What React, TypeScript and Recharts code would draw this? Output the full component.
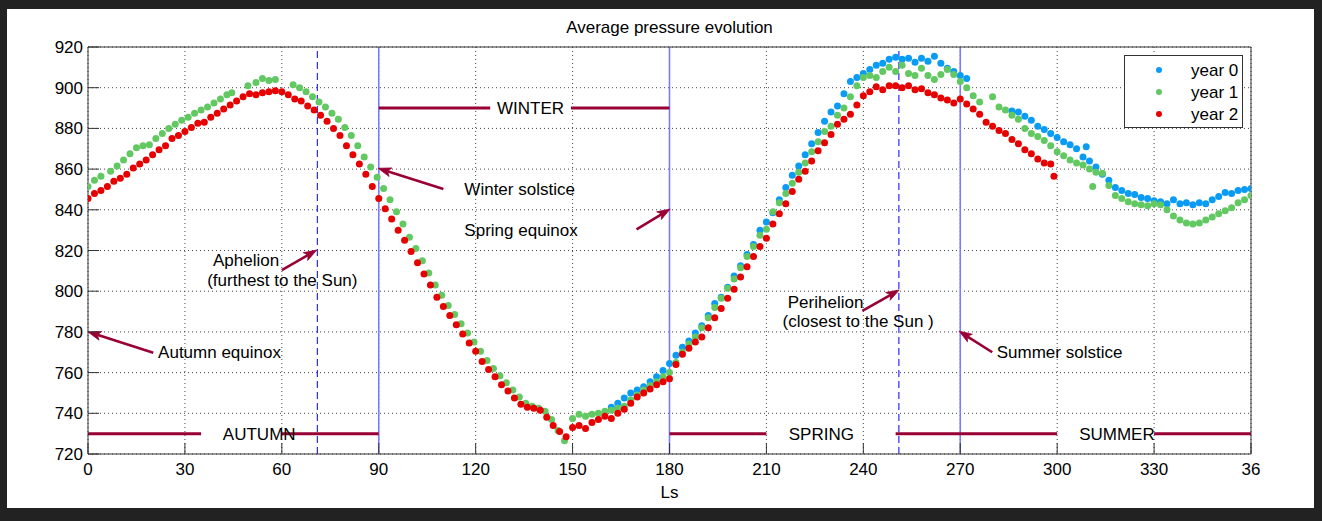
import React from "react";
import {
  ScatterChart,
  Scatter,
  XAxis,
  YAxis,
  CartesianGrid,
  ReferenceLine,
  ReferenceDot,
  Legend,
} from "recharts";

// axes
const xTicks = [0, 30, 60, 90, 120, 150, 180, 210, 240, 270, 300, 330, 360];
const xTickLabels = ["0", "30", "60", "90", "120", "150", "180", "210", "240", "270", "300", "330", "36"];
const yTicks = [720, 740, 760, 780, 800, 820, 840, 860, 880, 900, 920];

// [Ls, pressure]
const year0: [number, number][] = [
  [162, 743], [164, 745], [166, 747.5], [168, 750], [170, 751.5], [172, 753], [174, 755.5], [176, 758],
  [178, 761], [180, 764.5], [182, 768.5], [184, 772.5], [186, 775.5], [188, 779.5], [190, 783], [192, 788],
  [194, 794], [196, 797], [198, 802], [200, 807.5], [202, 812.5], [204, 818], [206, 823], [208, 830],
  [210, 834], [212, 838.5], [214, 845], [216, 851], [218, 857], [220, 861.5], [222, 867], [224, 872.5],
  [226, 878], [228, 883.5], [230, 888], [232, 891], [234, 897], [236, 903], [238, 905], [240, 907],
  [242, 909], [244, 911], [246, 912], [248, 914], [250, 915], [252, 914], [254, 914.5], [256, 912.5],
  [258, 914.5], [260, 913], [262, 915.5], [264, 912], [266, 909.5], [268, 908], [270, 906], [272, 904.5],
  [286, 888.5], [288, 888], [290, 886], [292, 884], [294, 881], [296, 879.5], [298, 877.5], [300, 875.5],
  [302, 873.5], [304, 872], [306, 870], [308, 866], [309, 871], [310, 864], [312, 861], [314, 857.5],
  [316, 854.5], [318, 851], [320, 849.5], [322, 848], [324, 847.5], [326, 846], [328, 845.5], [330, 844.5],
  [332, 844], [334, 843], [336, 845], [338, 843], [340, 843.5], [342, 842.5], [344, 843.5], [346, 843],
  [348, 845], [350, 846.5], [352, 848.5], [354, 848], [356, 849.5], [358, 850], [360, 850.5],
];

const year1: [number, number][] = [
  [0, 851.5], [2, 854.5], [4, 856.5], [7, 859], [9, 861.5], [11, 864.5], [13, 867.5], [15, 870.5],
  [17, 871.5], [19, 872], [21, 875], [23, 877.5], [25, 880], [27, 882], [29, 884], [31, 885.5],
  [33, 887.5], [35, 889], [37, 890.5], [39, 892.5], [41, 894.5], [43, 896.5], [44.5, 897.5], [49.5, 901],
  [52, 902.5], [54, 904.5], [56, 903.5], [58, 904], [63.5, 901.5], [65.5, 900], [67.5, 898], [69.5, 895.5],
  [71.5, 893], [73.5, 890.5], [75.5, 887.5], [77.5, 884.5], [79.5, 880.5], [81.5, 876.5], [83.5, 871.5], [85.5, 866],
  [87.5, 861], [89.5, 856], [91.5, 850.5], [93.5, 845], [95.5, 839], [97.5, 833], [99.5, 826.5], [101.5, 821],
  [103.5, 815], [105.5, 809], [107.5, 803], [109.5, 798], [111.5, 793], [113.5, 788.5], [115.5, 784], [117.5, 779.5],
  [119.5, 775], [121.5, 770.5], [123.5, 766], [125.5, 762], [127.5, 758.5], [129.5, 755], [131.5, 751.5], [133.5, 748],
  [135.5, 745], [137.5, 743.5], [139.5, 742.5], [141.5, 741], [143.5, 737], [145.5, 731.5], [147.5, 726.5], [150, 737.5],
  [152, 739.5], [154, 738.5], [156, 739.5], [158, 740], [160, 741], [162, 741.5], [164, 742.5], [166, 743.5],
  [168, 746.5], [170, 749], [172, 751.5], [174, 753.5], [176, 755.5], [178, 758], [180, 760], [182, 765],
  [184, 770], [186, 774], [188, 777.5], [190, 782], [192, 787], [194, 792], [196, 796.5], [198, 801.5],
  [200, 806], [202, 811.5], [204, 817], [206, 822], [208, 827.5], [210, 830.5], [212, 839], [214, 843.5],
  [216, 848], [218, 853], [220, 858.5], [222, 863], [224, 868.5], [226, 873.5], [228, 878.5], [230, 881],
  [232, 886.5], [234, 890], [236, 895.5], [238, 901], [240, 905], [242, 906], [244, 905], [246, 908],
  [248, 910], [250, 908], [252, 911], [254, 907], [256, 906], [258, 909.5], [260, 906], [262, 904],
  [264, 906.5], [266, 909], [268, 906.5], [270, 903], [272, 900], [274, 896], [276, 893], [280, 895.5],
  [282, 890.5], [284, 889], [286, 886.5], [288, 884.5], [290, 880], [292, 877.5], [294, 876], [296, 874],
  [298, 871.5], [300, 868.5], [302, 866.5], [304, 864.5], [306, 863], [308, 862], [310, 860], [311, 851.5],
  [312, 858.5], [314, 858], [316, 852], [318, 847], [320, 845.5], [322, 844], [324, 843], [326, 842.5],
  [328, 842], [330, 843], [332, 842.5], [334, 840], [336, 837], [338, 835], [340, 833.5], [342, 833],
  [344, 833.5], [346, 835], [348, 836.5], [350, 838], [352, 839.5], [354, 841], [356, 843.5], [358, 845],
  [360, 847],
];

const year2: [number, number][] = [
  [0, 845.5], [2, 848], [4, 849.5], [6, 851.5], [8, 854], [10, 855.5], [12, 857.5], [14, 860.5],
  [16, 862.5], [18, 864.5], [20, 867], [22, 869.5], [24, 871.5], [26, 875], [28, 876.5], [30, 878.5],
  [32, 880.5], [34, 882.5], [36, 883], [38, 885.5], [40, 887.5], [42, 889.5], [44, 891.5], [46, 893.5],
  [48, 895.5], [50, 897], [52, 896.5], [54, 897.5], [56, 898], [58, 898.5], [60, 898], [62, 896.5],
  [64, 894.5], [66, 893.5], [68, 891], [70, 889], [72, 886.5], [74, 883.5], [76, 880], [78, 876.5],
  [80, 871.5], [82, 867], [84, 862.5], [86, 857.5], [88, 851.5], [90, 845.5], [92, 840.5], [94, 835.5],
  [96, 830], [98, 825], [100, 819.5], [102, 814], [104, 808.5], [106, 803], [108, 797], [110, 792.5],
  [112, 788], [114, 783.5], [116, 779], [118, 774.5], [120, 770.5], [122, 765.5], [124, 761.5], [126, 758],
  [128, 754], [130, 751], [132, 747.5], [134, 744.5], [136, 743], [138, 742.5], [140, 741.5], [142, 738],
  [144, 734], [146, 731], [148, 728.5], [150, 733], [152, 734], [154, 732.5], [156, 735.5], [158, 737],
  [160, 738.5], [162, 737.5], [164, 740], [166, 742], [168, 745], [170, 748], [172, 750], [174, 752],
  [176, 754], [178, 755.5], [180, 757], [182, 764], [184, 769], [186, 772], [188, 775], [190, 777.5],
  [192, 782], [194, 787], [196, 791.5], [198, 796.5], [200, 801], [202, 807], [204, 812], [206, 817],
  [208, 822], [210, 826], [212, 833], [214, 838], [216, 843], [218, 849], [220, 855], [222, 859],
  [224, 864], [226, 869], [228, 873], [230, 877], [232, 882], [234, 884.5], [236, 887], [238, 891.5],
  [240, 896], [242, 898], [244, 900.5], [246, 899], [248, 901], [250, 901], [252, 900], [254, 901],
  [256, 899], [258, 899.5], [260, 897.5], [262, 896.5], [264, 895], [266, 894], [268, 892.5], [270, 894.5],
  [272, 892], [274, 889.5], [276, 887], [278, 883], [280, 881], [282, 879], [284, 877.5], [286, 874.5],
  [288, 872.5], [290, 869.5], [292, 867.5], [294, 865], [296, 863], [298, 862.5], [299, 856.5],
];

const seriesNames = ["year 0", "year 1", "year 2"];
const seriesData = [year0, year1, year2];
const seriesColors = ["#0a9cf5", "#62c962", "#e60000"];

// season bars: [from Ls, to Ls, pressure]
const seasonBars: [number, number, number][] = [
  [0, 35, 730], [60, 90, 730],
  [90, 124.5, 890], [149.5, 180, 890],
  [180, 210, 730], [250, 300, 730], [330, 360, 730],
];
const seasonLabels: [string, number, number][] = [
  ["AUTUMN", 53, 730],
  ["WINTER", 137, 890],
  ["SPRING", 227, 730],
  ["SUMMER", 318.5, 730],
];

const solidMarks = [90, 180, 270];
const dashedMarks = [71, 251];

// arrows: tail Ls, tail p, head Ls, head p
const arrows: [number, number, number, number][] = [
  [20.2, 769.8, 0, 780],
  [60, 810.4, 70.8, 820.2],
  [110, 850.2, 89.8, 860.4],
  [169.8, 830.4, 180.2, 840.4],
  [239.7, 790.3, 251.1, 800.6],
  [279.9, 770, 269.6, 780.4],
];
// notes: text, left Ls, mid p
const notes: [string, number, number][] = [
  ["Autumn equinox", 21.7, 770.1],
  ["Aphelion", 38.7, 815.3],
  ["(furthest to the Sun)", 36.9, 805.5],
  ["Winter solstice", 116.5, 850.2],
  ["Spring equinox", 116.5, 830.1],
  ["Perihelion", 216.6, 794.8],
  ["(closest to the Sun )", 215.0, 785.4],
  ["Summer solstice", 281.3, 770.3],
];

const MAROON = "#990033";
const FONT = "'Liberation Sans', Arial, Helvetica, sans-serif";

function Arrow(props: any) {
  const { x1, y1, x2, y2 } = props;
  const dx = x2 - x1;
  const dy = y2 - y1;
  const len = Math.hypot(dx, dy) || 1;
  const ux = dx / len;
  const uy = dy / len;
  const hl = 13;
  const hw = 4.5;
  const bx = x2 - ux * hl;
  const by = y2 - uy * hl;
  const nx = x2 - ux * hl * 0.75;
  const ny = y2 - uy * hl * 0.75;
  const pts = `${x2},${y2} ${bx - uy * hw},${by + ux * hw} ${nx},${ny} ${bx + uy * hw},${by - ux * hw}`;
  return (
    <g>
      <line x1={x1} y1={y1} x2={nx} y2={ny} stroke={MAROON} strokeWidth={2.6} />
      <polygon points={pts} fill={MAROON} stroke={MAROON} strokeWidth={0.8} />
    </g>
  );
}

function makeDot(color: string) {
  return (props: any) => <circle cx={props.cx} cy={props.cy} r={3.5} fill={color} />;
}

function LegendBox() {
  return (
    <svg width={119} height={73} style={{ display: "block", fontFamily: FONT }}>
      <rect x={0.5} y={0.5} width={118} height={72} fill="#fff" stroke="#333" />
      {seriesNames.map((n, i) => (
        <g key={n}>
          <circle cx={35} cy={15 + i * 22} r={3} fill={seriesColors[i]} />
          <text x={67} y={15 + i * 22} dy="0.36em" fontSize={17} fill="#000">
            {n}
          </text>
        </g>
      ))}
    </svg>
  );
}

export default function App() {
  const tickStyle = { fill: "#000", fontSize: 17, fontFamily: FONT };
  return (
    <div style={{ position: "absolute", left: 0, top: 0, width: 1322, height: 521, background: "#222" }}>
      <div style={{ position: "absolute", left: 7, top: 9, width: 1307, height: 499, background: "#fff" }} />
      <div style={{ position: "absolute", left: 0, top: 0 }}>
        <ScatterChart
          width={1322}
          height={521}
          margin={{ top: 46, right: 70, bottom: 66, left: 87 }}
          style={{ fontFamily: FONT }}
        >
          <CartesianGrid stroke="#444" strokeDasharray="1 3" />
          <XAxis
            type="number"
            dataKey="ls"
            domain={[0, 360]}
            ticks={xTicks}
            allowDataOverflow
            height={1}
            tickSize={-11}
            tickMargin={20}
            tick={tickStyle}
            tickFormatter={(_v: number, i: number) => xTickLabels[i]}
            axisLine={{ stroke: "#333" }}
            tickLine={{ stroke: "#333" }}
            label={{ value: "Ls", position: "bottom", offset: 31, fill: "#000", fontSize: 17, fontFamily: FONT }}
          />
          <XAxis
            xAxisId="top"
            orientation="top"
            type="number"
            domain={[0, 360]}
            ticks={xTicks}
            allowDataOverflow
            height={1}
            tickSize={-11}
            tick={false}
            axisLine={{ stroke: "#333" }}
            tickLine={{ stroke: "#333" }}
            label={{
              value: "Average pressure evolution",
              position: "top",
              offset: 13,
              fill: "#000",
              fontSize: 17,
              fontFamily: FONT,
            }}
          />
          <YAxis
            type="number"
            dataKey="p"
            domain={[720, 920]}
            ticks={yTicks}
            allowDataOverflow
            width={1}
            tickSize={-11}
            tickMargin={16}
            tick={tickStyle}
            axisLine={{ stroke: "#333" }}
            tickLine={{ stroke: "#333" }}
          />
          <YAxis
            yAxisId="right"
            orientation="right"
            type="number"
            domain={[720, 920]}
            ticks={yTicks}
            allowDataOverflow
            width={1}
            tickSize={-11}
            tick={false}
            axisLine={{ stroke: "#333" }}
            tickLine={{ stroke: "#333" }}
          />

          {seriesData.map((d, i) => (
            <Scatter
              key={seriesNames[i]}
              name={seriesNames[i]}
              data={d.map(([ls, p]) => ({ ls, p }))}
              fill={seriesColors[i]}
              shape={makeDot(seriesColors[i])}
              isAnimationActive={false}
            />
          ))}

          {solidMarks.map((ls) => (
            <ReferenceLine key={`s${ls}`} x={ls} stroke="#7b7bff" strokeWidth={1.6} ifOverflow="visible" />
          ))}
          {dashedMarks.map((ls) => (
            <ReferenceLine
              key={`d${ls}`}
              x={ls}
              stroke="#2a2aff"
              strokeWidth={1.2}
              strokeDasharray="7 4"
              ifOverflow="visible"
            />
          ))}

          {seasonBars.map(([a, b, p], i) => (
            <ReferenceLine
              key={`b${i}`}
              segment={[
                { x: a, y: p },
                { x: b, y: p },
              ]}
              stroke={MAROON}
              strokeWidth={3}
              ifOverflow="visible"
            />
          ))}
          {seasonLabels.map(([t, ls, p]) => (
            <ReferenceDot
              key={t}
              x={ls}
              y={p}
              r={0}
              fill="none"
              stroke="none"
              ifOverflow="visible"
              label={{ value: t, position: "center", fill: "#000", fontSize: 17, fontFamily: FONT }}
            />
          ))}

          {arrows.map(([x1, y1, x2, y2], i) => (
            <ReferenceLine
              key={`a${i}`}
              segment={[
                { x: x1, y: y1 },
                { x: x2, y: y2 },
              ]}
              shape={Arrow}
              ifOverflow="visible"
            />
          ))}
          {notes.map(([t, ls, p]) => (
            <ReferenceDot
              key={t}
              x={ls}
              y={p}
              r={0}
              fill="none"
              stroke="none"
              ifOverflow="visible"
              label={{ value: t, position: "right", offset: 0, fill: "#000", fontSize: 17, fontFamily: FONT }}
            />
          ))}

          <Legend
            layout="vertical"
            align="center"
            verticalAlign="middle"
            content={() => <LegendBox />}
            wrapperStyle={{ left: 1124, top: 55, width: 119, height: 73 }}
          />
        </ScatterChart>
      </div>
    </div>
  );
}
